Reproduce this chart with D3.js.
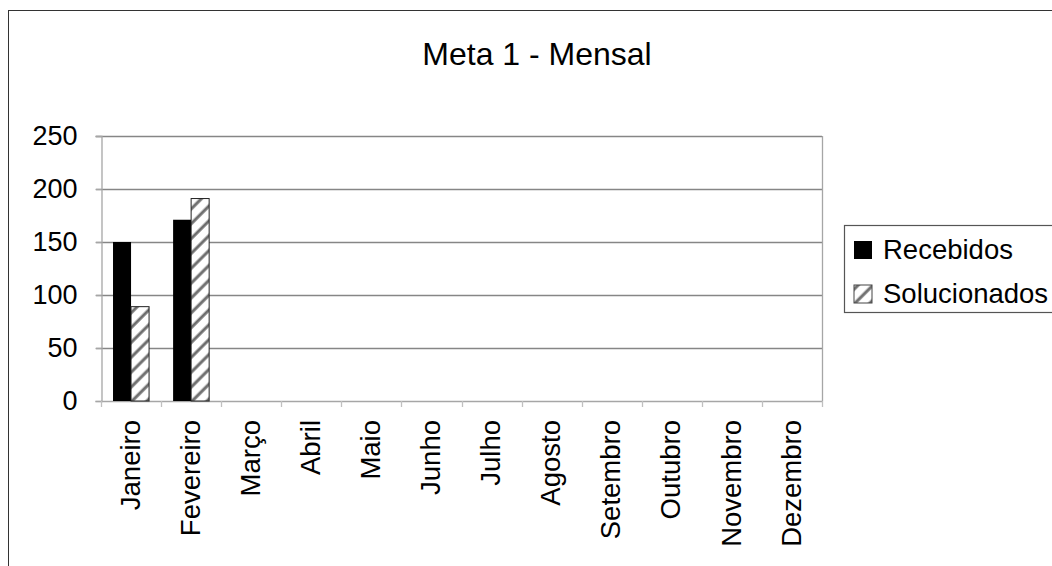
<!DOCTYPE html>
<html>
<head>
<meta charset="utf-8">
<script src="https://cdn.jsdelivr.net/npm/d3@7"></script>
<style>
  body { margin: 0; background: #fff; }
  svg { display: block; font-family: "Liberation Sans", Arial, sans-serif; }
</style>
</head>
<body>
<div id="chart-area"></div>
<script>
const months = ["Janeiro", "Fevereiro", "Março", "Abril", "Maio", "Junho",
    "Julho", "Agosto", "Setembro", "Outubro", "Novembro", "Dezembro"];
const seriesNames = ["Recebidos", "Solucionados"];
const recebidos = [150, 171, null, null, null, null, null, null, null, null, null, null];
const solucionados = [89, 191, null, null, null, null, null, null, null, null, null, null];
const yTicks = [0, 50, 100, 150, 200, 250];

const width = 1052, height = 566;
const plot = { left: 101, right: 822, top: 136, bottom: 401 };

const svg = d3.select("#chart-area")
    .append("svg")
    .attr("width", width)
    .attr("height", height);

// hatch pattern for the second series
const defs = svg.append("defs");
defs.append("pattern")
    .attr("id", "hatch")
    .attr("patternUnits", "userSpaceOnUse")
    .attr("width", 10.5)
    .attr("height", 10.5)
    .attr("patternTransform", "rotate(45)")
    .call(p => {
        p.append("rect").attr("width", 10.5).attr("height", 10.5).attr("fill", "#fff");
        p.append("line")
            .attr("x1", 3).attr("x2", 3)
            .attr("y1", 0).attr("y2", 10.5)
            .attr("stroke", "#6e6e6e")
            .attr("stroke-width", 3);
    });

// outer chart border
svg.append("rect")
    .attr("x", 8.5).attr("y", 10.5)
    .attr("width", 1100).attr("height", 600)
    .attr("fill", "none")
    .attr("stroke", "#333")
    .attr("stroke-width", 1);

// title
svg.append("text")
    .attr("x", 537)
    .attr("y", 65)
    .attr("text-anchor", "middle")
    .attr("font-size", 32)
    .text("Meta 1 - Mensal");

const x = d3.scaleBand()
    .domain(months)
    .range([plot.left, plot.right])
    .paddingInner(0.4)
    .paddingOuter(0.2);

const xInner = d3.scaleBand()
    .domain(seriesNames)
    .range([0, x.bandwidth()]);

const y = d3.scaleLinear()
    .domain([0, 250])
    .range([plot.bottom, plot.top]);

// gridlines
svg.append("g")
    .selectAll("line")
    .data(yTicks.filter(d => d > 0))
    .join("line")
    .attr("x1", plot.left - 5)
    .attr("x2", plot.right)
    .attr("y1", d => Math.round(y(d)) + 0.5)
    .attr("y2", d => Math.round(y(d)) + 0.5)
    .attr("stroke", "#868686")
    .attr("stroke-width", 1.3);

// plot area right border
svg.append("line")
    .attr("x1", plot.right + 0.5).attr("x2", plot.right + 0.5)
    .attr("y1", plot.top).attr("y2", plot.bottom)
    .attr("stroke", "#a6a6a6")
    .attr("stroke-width", 1.3);

// y axis
const yAxis = svg.append("g")
    .attr("transform", `translate(${plot.left + 0.5},0)`)
    .call(d3.axisLeft(y).tickValues(yTicks).tickSize(6).tickPadding(18));
yAxis.select(".domain").attr("stroke", "#a6a6a6").attr("stroke-width", 1.3);
yAxis.selectAll(".tick line").attr("stroke", "#a6a6a6").attr("stroke-width", 1.3);
yAxis.selectAll(".tick text")
    .attr("font-size", 27)
    .attr("font-family", "Liberation Sans, Arial, sans-serif")
    .attr("fill", "#000");

// x axis line and ticks at category boundaries
svg.append("line")
    .attr("x1", plot.left).attr("x2", plot.right)
    .attr("y1", plot.bottom + 0.5).attr("y2", plot.bottom + 0.5)
    .attr("stroke", "#a6a6a6")
    .attr("stroke-width", 1.3);

const boundaries = months.map(m => x(m) - x.step() * x.paddingInner() / 2).concat([plot.right]);
svg.append("g")
    .selectAll("line")
    .data(boundaries)
    .join("line")
    .attr("x1", d => Math.round(d) + 0.5)
    .attr("x2", d => Math.round(d) + 0.5)
    .attr("y1", plot.bottom)
    .attr("y2", plot.bottom + 6)
    .attr("stroke", "#c0c0c0")
    .attr("stroke-width", 1.3);

// x labels
svg.append("g")
    .selectAll("text")
    .data(months)
    .join("text")
    .attr("transform", d => `translate(${x(d) + x.bandwidth() / 2 - 1},420) rotate(-90)`)
    .attr("dy", "0.35em")
    .attr("text-anchor", "end")
    .attr("font-size", 27.5)
    .text(d => d);

// bars
const rows = months.map((m, i) => ({ month: m, Recebidos: recebidos[i], Solucionados: solucionados[i] }));

svg.append("g")
    .selectAll("g")
    .data(rows)
    .join("g")
    .attr("transform", d => `translate(${x(d.month)},0)`)
    .selectAll("rect")
    .data(d => seriesNames.map(k => ({ key: k, value: d[k] })).filter(e => e.value != null))
    .join("rect")
    .attr("x", d => xInner(d.key))
    .attr("y", d => y(d.value))
    .attr("width", xInner.bandwidth())
    .attr("height", d => y(0) - y(d.value))
    .attr("fill", d => d.key === "Recebidos" ? "#000" : "url(#hatch)")
    .attr("stroke", d => d.key === "Recebidos" ? "none" : "#222")
    .attr("stroke-width", 1);

// legend
const legend = svg.append("g");
legend.append("rect")
    .attr("x", 844.5).attr("y", 225.5)
    .attr("width", 220).attr("height", 87)
    .attr("fill", "#fff")
    .attr("stroke", "#555")
    .attr("stroke-width", 1.2);

const legendRows = legend.selectAll("g")
    .data(seriesNames)
    .join("g")
    .attr("transform", (d, i) => `translate(854,${241 + i * 44})`);

legendRows.append("rect")
    .attr("width", 18).attr("height", 18)
    .attr("fill", d => d === "Recebidos" ? "#000" : "url(#hatch)")
    .attr("stroke", d => d === "Recebidos" ? "none" : "#444")
    .attr("stroke-width", 1);

legendRows.append("text")
    .attr("x", 29)
    .attr("y", 18)
    .attr("font-size", 27.5)
    .text(d => d);
</script>
</body>
</html>
